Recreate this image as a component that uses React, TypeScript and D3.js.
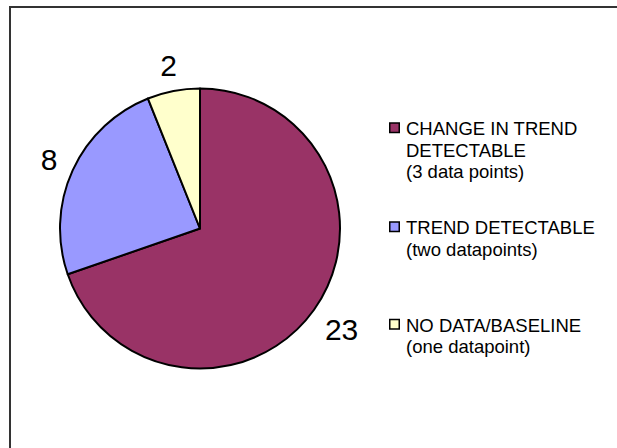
import React from "react";
import * as d3 from "d3";

// Counts per trend category
const categories = ["CHANGE IN TREND DETECTABLE (3 data points)", "TREND DETECTABLE (two datapoints)", "NO DATA/BASELINE (one datapoint)"];
const values = [23, 8, 2];
const colors = ["#993366", "#9999FF", "#FFFFCC"];
const legendLines = [
  ["CHANGE IN TREND", "DETECTABLE", "(3 data points)"],
  ["TREND DETECTABLE", "(two datapoints)"],
  ["NO DATA/BASELINE", "(one datapoint)"],
];

const W = 617;
const H = 448;
const FONT = "'Liberation Sans', Arial, Helvetica, sans-serif";

export default function App() {
  const cx = 200;
  const cy = 228.5;
  const r = 140;

  // clockwise from 12 o'clock, in data order
  const pie = d3
    .pie<number>()
    .sort(null)
    .value((d) => d)
    .startAngle(0)
    .endAngle(2 * Math.PI);
  const arcs = pie(values);
  const arcGen = d3.arc<d3.PieArcDatum<number>>().innerRadius(0).outerRadius(r);

  const labelFs = 30;
  const gap = 14;

  const legendX = 389;
  const legendTop = [135, 234, 331.5];
  const lineH = 21.5;
  const legendFs = 18.5;

  return (
    <svg
      width={W}
      height={H}
      style={{ position: "absolute", left: 0, top: 0, background: "#fff" }}
      xmlns="http://www.w3.org/2000/svg"
    >
      <rect x={0} y={0} width={W} height={H} fill="#fff" />
      {/* frame */}
      <path d={`M10,${H} L10,7 L${W},7`} fill="none" stroke="#333" strokeWidth={2} />

      <g transform={`translate(${cx},${cy})`}>
        {arcs.map((a, i) => (
          <path key={i} d={arcGen(a) || ""} fill={colors[i]} stroke="#000" strokeWidth={2} strokeLinejoin="round" />
        ))}
        {arcs.map((a, i) => {
          const mid = (a.startAngle + a.endAngle) / 2;
          const dx = Math.sin(mid);
          const dy = -Math.cos(mid);
          const txt = String(values[i]);
          const w = txt.length * 0.556 * labelFs;
          const h = 0.716 * labelFs;
          const dist = r + gap + (w / 2) * Math.abs(dx) + (h / 2) * Math.abs(dy);
          const x = dx * dist;
          const y = dy * dist;
          return (
            <text
              key={i}
              x={x}
              y={y + h / 2}
              textAnchor="middle"
              fontFamily={FONT}
              fontSize={labelFs}
              fill="#000"
            >
              {txt}
            </text>
          );
        })}
      </g>

      {legendLines.map((lines, i) => (
        <g key={i}>
          <rect
            x={legendX + 0.75}
            y={legendTop[i] - 12}
            width={9.5}
            height={9.5}
            fill={colors[i]}
            stroke="#000"
            strokeWidth={1.5}
          >
            <title>{categories[i]}</title>
          </rect>
          {lines.map((ln, j) => (
            <text
              key={j}
              x={406}
              y={legendTop[i] + j * lineH}
              fontFamily={FONT}
              fontSize={legendFs}
              fill="#000"
            >
              {ln}
            </text>
          ))}
        </g>
      ))}
    </svg>
  );
}
